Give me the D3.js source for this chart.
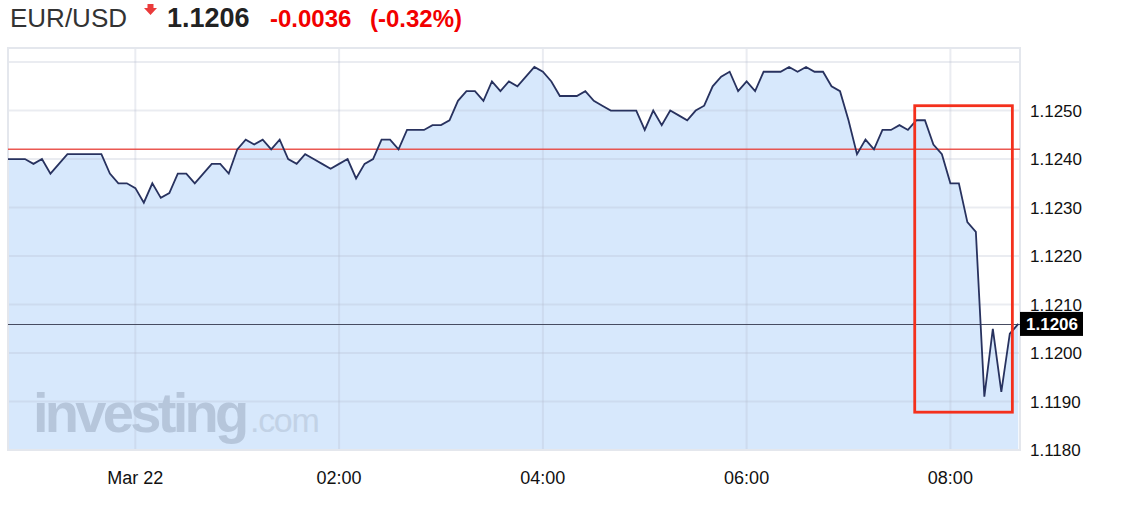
<!DOCTYPE html>
<html><head><meta charset="utf-8">
<script src="https://cdn.jsdelivr.net/npm/d3@7"></script>
<style>
html,body{margin:0;padding:0;background:#fff;}
svg{display:block;font-family:"Liberation Sans",Arial,Helvetica,sans-serif;}
</style></head><body>
<svg id="c" width="1122" height="513"></svg>
<script>
// ---------- data ----------
const symbol = "EUR/USD";
const lastPrice = 1.1206;
const changeText = "-0.0036";
const changePctText = "(-0.32%)";
const prevClose = 1.1242;
const startTime = "2016-03-21T22:45:00";
const endTime = "2016-03-22T08:41:00";
const intervalMin = 5;
const prices = [
  1.1240,1.1240,1.1240,1.1239,1.1240,1.1237,1.1239,1.1241,1.1241,1.1241,
  1.1241,1.1241,1.1237,1.1235,1.1235,1.1234,1.1231,1.1235,1.1232,1.1233,
  1.1237,1.1237,1.1235,1.1237,1.1239,1.1239,1.1237,1.1242,1.1244,1.1243,
  1.1244,1.1242,1.1244,1.1240,1.1239,1.1241,1.1240,1.1239,1.1238,1.1239,
  1.1240,1.1236,1.1239,1.1240,1.1244,1.1244,1.1242,1.1246,1.1246,1.1246,
  1.1247,1.1247,1.1248,1.1252,1.1254,1.1254,1.1252,1.1256,1.1254,1.1256,
  1.1255,1.1257,1.1259,1.1258,1.1256,1.1253,1.1253,1.1253,1.1254,1.1252,
  1.1251,1.1250,1.1250,1.1250,1.1250,1.1246,1.1250,1.1247,1.1250,1.1249,
  1.1248,1.1250,1.1251,1.1255,1.1257,1.1258,1.1254,1.1256,1.1254,1.1258,
  1.1258,1.1258,1.1259,1.1258,1.1259,1.1258,1.1258,1.1255,1.1254,1.1248,
  1.1241,1.1244,1.1242,1.1246,1.1246,1.1247,1.1246,1.1248,1.1248,1.1243,
  1.1241,1.1235,1.1235,1.1227,1.1225,1.1191,1.1205,1.1192,1.1204,1.1206
];
const yGridValues = [1.1180,1.1190,1.1200,1.1210,1.1220,1.1230,1.1240,1.1250,1.1260];
const yLabelValues = [1.1180,1.1190,1.1200,1.1210,1.1220,1.1230,1.1240,1.1250];
const xTickTimes = ["2016-03-22T00:00:00","2016-03-22T02:00:00","2016-03-22T04:00:00","2016-03-22T06:00:00","2016-03-22T08:00:00"];
const xTickLabels = ["Mar 22","02:00","04:00","06:00","08:00"];
const highlightTimes = ["2016-03-22T07:39:00","2016-03-22T08:36:30"];
const highlightValues = [1.11878,1.12510];

// ---------- layout ----------
const L = 8, R = 1020, T = 48, B = 450;
const svg = d3.select("#c");
const t0 = new Date(startTime);
const series = prices.map((v,i)=>({t:d3.timeMinute.offset(t0,i*intervalMin), v}));

const x = d3.scaleTime().domain([new Date(startTime), new Date(endTime)]).range([L,R]);
const y = d3.scaleLinear().domain([1.1180, 1.12629]).range([B,T]);

// plot background
svg.append("rect").attr("x",L).attr("y",T).attr("width",R-L).attr("height",B-T).attr("fill","#fff");

// area
const area = d3.area().x(d=>x(d.t)).y0(B).y1(d=>y(d.v));
svg.append("path").datum(series).attr("d",area).attr("fill","#d7e8fc");

// gridlines
const grid = svg.append("g").attr("stroke","rgba(178,188,206,0.28)").attr("stroke-width",2);
grid.selectAll("line.h").data(yGridValues).join("line")
  .attr("x1",L).attr("x2",R).attr("y1",d=>y(d)).attr("y2",d=>y(d));
grid.selectAll("line.v").data(xTickTimes).join("line")
  .attr("x1",d=>x(new Date(d))).attr("x2",d=>x(new Date(d))).attr("y1",T).attr("y2",B);

// frame
const frame = svg.append("g").attr("stroke","#e4e7ed").attr("stroke-width",2).attr("fill","none");
frame.append("line").attr("x1",L-1).attr("x2",R+1).attr("y1",T).attr("y2",T);
frame.append("line").attr("x1",L).attr("x2",L).attr("y1",T).attr("y2",B+1);
frame.append("line").attr("x1",R).attr("x2",R).attr("y1",T).attr("y2",B+1);
frame.append("line").attr("x1",L-1).attr("x2",R+1).attr("y1",B).attr("y2",B);

// watermark
const wm = svg.append("g");
wm.append("text").attr("x",33).attr("y",432).attr("font-size",56).attr("font-weight","bold")
  .attr("letter-spacing",-3.7).attr("fill","#b6c6db").text("investing");
wm.append("text").attr("x",250).attr("y",432).attr("font-size",34).attr("letter-spacing",-1.3)
  .attr("fill","#c2d2e6").text(".com");

// previous close line
svg.append("line").attr("x1",L).attr("x2",R).attr("y1",y(prevClose)).attr("y2",y(prevClose))
  .attr("stroke","#e8463f").attr("stroke-opacity",0.9).attr("stroke-width",1.5);

// current price line
svg.append("line").attr("x1",L).attr("x2",R).attr("y1",Math.round(y(lastPrice))+0.5).attr("y2",Math.round(y(lastPrice))+0.5)
  .attr("stroke","#474c61").attr("stroke-width",1.2);

// price line
const line = d3.line().x(d=>x(d.t)).y(d=>y(d.v));
svg.append("path").datum(series).attr("d",line).attr("fill","none")
  .attr("stroke","#28325f").attr("stroke-width",1.8).attr("stroke-linejoin","miter");

// highlight box
const hx0 = x(new Date(highlightTimes[0])), hx1 = x(new Date(highlightTimes[1]));
const hy0 = y(highlightValues[1]), hy1 = y(highlightValues[0]);
svg.append("rect").attr("x",hx0).attr("y",hy0).attr("width",hx1-hx0).attr("height",hy1-hy0)
  .attr("fill","none").attr("stroke","#f4301c").attr("stroke-width",2.8);

// y labels
svg.append("g").selectAll("text").data(yLabelValues).join("text")
  .attr("x",1030).attr("y",d=>y(d)).attr("dy","0.36em").attr("font-size",17).attr("fill","#111")
  .text(d=>d3.format(".4f")(d));

// price tag
const py = y(lastPrice);
svg.append("rect").attr("x",R).attr("y",py-12).attr("width",63).attr("height",24).attr("fill","#000");
svg.append("text").attr("x",R+32).attr("y",py).attr("dy","0.36em").attr("text-anchor","middle")
  .attr("font-size",17).attr("font-weight","bold").attr("fill","#fff").text(d3.format(".4f")(lastPrice));

// x labels
svg.append("g").selectAll("text").data(xTickTimes).join("text")
  .attr("x",d=>x(new Date(d))).attr("y",478).attr("dy","0.36em").attr("text-anchor","middle")
  .attr("font-size",18).attr("fill","#111").text((d,i)=>xTickLabels[i]);

// header
const hdr = svg.append("g");
hdr.append("text").attr("x",10).attr("y",27).attr("font-size",26).attr("fill","#333").text(symbol);
hdr.append("polygon").attr("points","147.5,4 153.5,4 153.5,8 157,8 150.5,15 144,8 147.5,8").attr("fill","#ea3b3b");
hdr.append("text").attr("x",167).attr("y",27).attr("font-size",27).attr("font-weight","bold").attr("fill","#222").text(d3.format(".4f")(lastPrice));
hdr.append("text").attr("x",270).attr("y",27).attr("font-size",24).attr("font-weight","bold").attr("fill","#f20000").text(changeText);
hdr.append("text").attr("x",370).attr("y",27).attr("font-size",24).attr("font-weight","bold").attr("fill","#f20000").text(changePctText);
</script>
</body></html>
